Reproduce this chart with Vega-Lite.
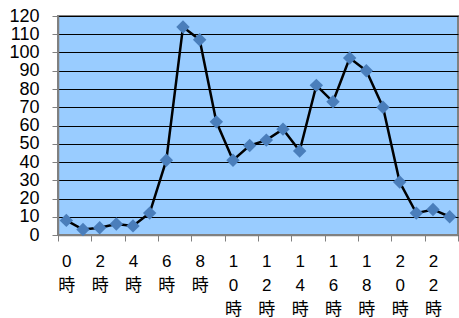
{
  "$schema": "https://vega.github.io/schema/vega-lite/v6.json",
  "width": 400,
  "height": 219,
  "autosize": "none",
  "padding": {"left": 58, "top": 16, "right": 1, "bottom": 83},
  "background": "white",
  "config": {
    "view": {"fill": "#99CCFF", "stroke": "#808080", "strokeWidth": 2}
  },
  "data": {
    "values": [
      {"h": 0, "v": 8}, {"h": 1, "v": 3}, {"h": 2, "v": 4}, {"h": 3, "v": 6},
      {"h": 4, "v": 5}, {"h": 5, "v": 12}, {"h": 6, "v": 41}, {"h": 7, "v": 114},
      {"h": 8, "v": 107}, {"h": 9, "v": 62}, {"h": 10, "v": 41}, {"h": 11, "v": 49},
      {"h": 12, "v": 52}, {"h": 13, "v": 58}, {"h": 14, "v": 46}, {"h": 15, "v": 82},
      {"h": 16, "v": 73}, {"h": 17, "v": 97}, {"h": 18, "v": 90}, {"h": 19, "v": 70},
      {"h": 20, "v": 29}, {"h": 21, "v": 12}, {"h": 22, "v": 14}, {"h": 23, "v": 10}
    ]
  },
  "encoding": {
    "y": {
      "field": "v", "type": "quantitative",
      "scale": {"domain": [0, 120], "nice": false},
      "axis": {
        "values": [0, 10, 20, 30, 40, 50, 60, 70, 80, 90, 100, 110, 120],
        "title": null, "grid": true, "gridColor": "#000000", "gridWidth": 1,
        "tickSize": 6, "tickColor": "#808080", "domainColor": "#808080", "domainWidth": 1.5,
        "labelFont": "'Liberation Sans', Arial", "labelFontSize": 18, "labelColor": "#000000",
        "labelPadding": 13, "labelOverlap": false, "labelFlush": false
      }
    }
  },
  "layer": [
    {
      "mark": {"type": "line", "color": "black", "strokeWidth": 2.5},
      "encoding": {
        "x": {
          "field": "h", "type": "quantitative",
          "scale": {"domain": [-0.5, 23.5], "nice": false, "zero": false},
          "axis": {
            "orient": "bottom",
            "values": [-0.5, 1.5, 3.5, 5.5, 7.5, 9.5, 11.5, 13.5, 15.5, 17.5, 19.5, 21.5, 23.5],
            "labels": false, "grid": false, "tickSize": 6, "tickColor": "#808080",
            "domainColor": "#808080", "domainWidth": 1.5, "title": null
          }
        }
      }
    },
    {
      "mark": {"type": "point", "shape": "diamond", "filled": true, "size": 180, "color": "#4A7EBB", "opacity": 1},
      "encoding": {
        "x": {
          "field": "h", "type": "quantitative",
          "axis": {
            "orient": "bottom",
            "values": [0, 2, 4, 6, 8, 10, 12, 14, 16, 18, 20, 22],
            "format": "d", "ticks": false, "domain": false, "grid": false, "title": null,
            "labelExpr": "split(datum.label + '時', '')",
            "labelFont": "'Liberation Sans', 'Noto Sans CJK JP'", "labelFontSize": 17,
            "labelColor": "#000000", "labelLineHeight": 24, "labelPadding": 18,
            "labelOverlap": false, "labelFlush": false, "labelBaseline": "top"
          }
        }
      }
    }
  ],
  "resolve": {"axis": {"x": "independent"}}
}
